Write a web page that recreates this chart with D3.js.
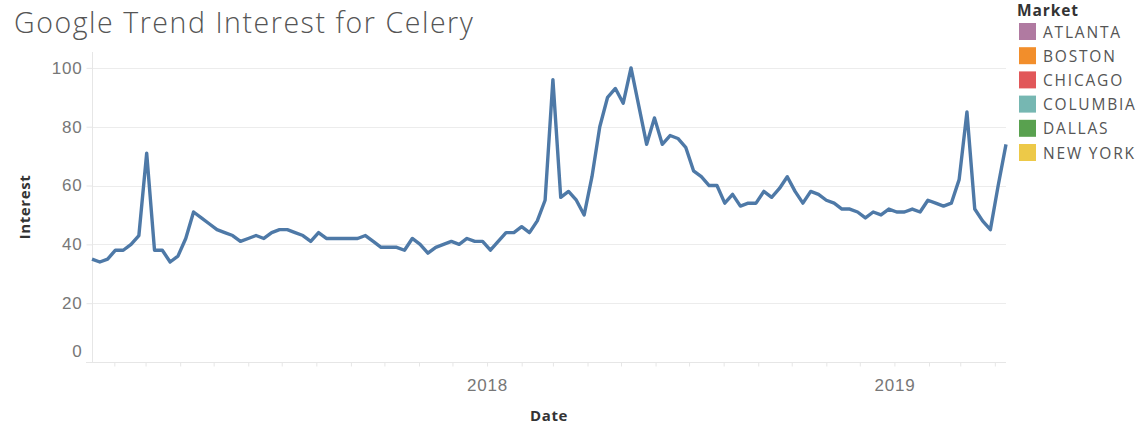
<!DOCTYPE html>
<html>
<head>
<meta charset="utf-8">
<script src="https://cdn.jsdelivr.net/npm/d3@7.9.0/dist/d3.min.js"></script>
<style>
  body { margin: 0; background: #fff; }
  svg { display: block; font-family: 'Open Sans', sans-serif; }
</style>
</head>
<body>
<div id="chart"></div>
<script>
// weekly Google Trends values for "celery", first week starting 2017-01-12
const startDate = new Date(2017, 0, 12);
const interest = [
  35, 34, 35, 38, 38, 40, 43, 71, 38, 38, 34, 36, 42, 51, 49, 47, 45, 44, 43, 41,
  42, 43, 42, 44, 45, 45, 44, 43, 41, 44, 42,
  42, 42, 42, 42, 43, 41, 39, 39, 39, 38, 42, 40, 37, 39, 40, 41, 40, 42, 41, 41,
  38, 41, 44, 44, 46, 44, 48, 55, 96, 56, 58,
  55, 50, 63, 80, 90, 93, 88, 100, 87, 74, 83, 74, 77, 76, 73, 65, 63, 60, 60, 54,
  57, 53, 54, 54, 58,
  56, 59, 63, 58, 54, 58, 57, 55, 54, 52, 52, 51, 49, 51, 50, 52, 51, 51, 52, 51,
  55, 54, 53, 54, 62, 85, 52, 48, 45, 60, 74
];
const yTicks = [0, 20, 40, 60, 80, 100];
const markets = ['ATLANTA', 'BOSTON', 'CHICAGO', 'COLUMBIA', 'DALLAS', 'NEW YORK'];
const marketColors = ['#b07aa1', '#f28e2b', '#e15759', '#76b7b2', '#59a14f', '#edc948'];

const data = interest.map((v, i) => ({ date: d3.timeDay.offset(startDate, i * 7), value: v }));

const width = 1143, height = 425;
const plot = { left: 92, right: 1006, top: 52, bottom: 362 };

const svg = d3.select('#chart').append('svg')
  .attr('width', width)
  .attr('height', height);

const x = d3.scaleTime()
  .domain(d3.extent(data, d => d.date))
  .range([plot.left, plot.right]);
const y = d3.scaleLinear()
  .domain([0, 105.4])
  .range([plot.bottom, plot.top]);

// title
svg.append('text')
  .attr('x', 14).attr('y', 33)
  .attr('fill', '#555')
  .style('font-size', '28.5px')
  .style('font-weight', 300)
  .style('letter-spacing', '1.55px')
  .text('Google Trend Interest for Celery');

// gridlines
svg.append('g')
  .selectAll('line')
  .data(yTicks.filter(d => d > 0))
  .join('line')
  .attr('x1', plot.left).attr('x2', plot.right)
  .attr('y1', d => Math.round(y(d)) + 0.5).attr('y2', d => Math.round(y(d)) + 0.5)
  .attr('stroke', '#ececec');

// y axis
const yAxis = svg.append('g')
  .attr('transform', `translate(${plot.left + 0.5},0)`)
  .call(d3.axisLeft(y).tickValues(yTicks).tickSize(6).tickPadding(4));
yAxis.select('.domain').attr('stroke', '#e6e6e6').attr('d', `M0,${plot.top}V${plot.bottom}`);
yAxis.selectAll('.tick line').attr('stroke', '#e6e6e6');
yAxis.selectAll('.tick text')
  .attr('fill', '#777')
  .style('font-size', '17px')
  .style('letter-spacing', '0.8px')
  .attr('dy', d => d === 0 ? '-0.3em' : '0.32em');

// x axis
const xAxis = svg.append('g')
  .attr('transform', `translate(0,${plot.bottom + 0.5})`)
  .call(d3.axisBottom(x)
    .ticks(d3.timeMonth.every(1))
    .tickSize(4)
    .tickPadding(12)
    .tickFormat(d => d.getMonth() === 0 ? d3.timeFormat('%Y')(d) : ''));
xAxis.select('.domain').attr('stroke', '#e6e6e6').attr('d', `M${plot.left - 6},0H${plot.right}`);
xAxis.selectAll('.tick line').attr('stroke', '#e6e6e6');
xAxis.selectAll('.tick text')
  .attr('fill', '#777')
  .style('font-size', '17px')
  .style('letter-spacing', '0.8px');

// axis titles
svg.append('text')
  .attr('transform', `translate(30,207) rotate(-90)`)
  .attr('text-anchor', 'middle')
  .attr('fill', '#333')
  .style('font-size', '15px')
  .style('font-weight', 'bold')
  .style('letter-spacing', '0.6px')
  .text('Interest');
svg.append('text')
  .attr('x', 549).attr('y', 421)
  .attr('text-anchor', 'middle')
  .attr('fill', '#333')
  .style('font-size', '15px')
  .style('font-weight', 'bold')
  .style('letter-spacing', '0.6px')
  .text('Date');

// line
svg.append('path')
  .datum(data)
  .attr('fill', 'none')
  .attr('stroke', '#4e79a7')
  .attr('stroke-width', 3.4)
  .attr('stroke-linejoin', 'round')
  .attr('d', d3.line().x(d => x(d.date)).y(d => y(d.value)));

// legend
const legend = svg.append('g').attr('transform', 'translate(1017,0)');
legend.append('text')
  .attr('x', 0).attr('y', 16)
  .attr('fill', '#333')
  .style('font-size', '15.5px')
  .style('font-weight', 'bold')
  .style('letter-spacing', '0.9px')
  .text('Market');
const items = legend.selectAll('g.item')
  .data(markets)
  .join('g')
  .attr('class', 'item')
  .attr('transform', (d, i) => `translate(0,${23 + i * 24.2})`);
items.append('rect')
  .attr('x', 2).attr('y', 0)
  .attr('width', 17).attr('height', 17)
  .attr('fill', (d, i) => marketColors[i]);
items.append('text')
  .attr('x', 26).attr('y', 14.5)
  .attr('fill', '#555')
  .style('font-size', '15.5px')
  .style('letter-spacing', '1.8px')
  .text(d => d);
</script>
</body>
</html>
